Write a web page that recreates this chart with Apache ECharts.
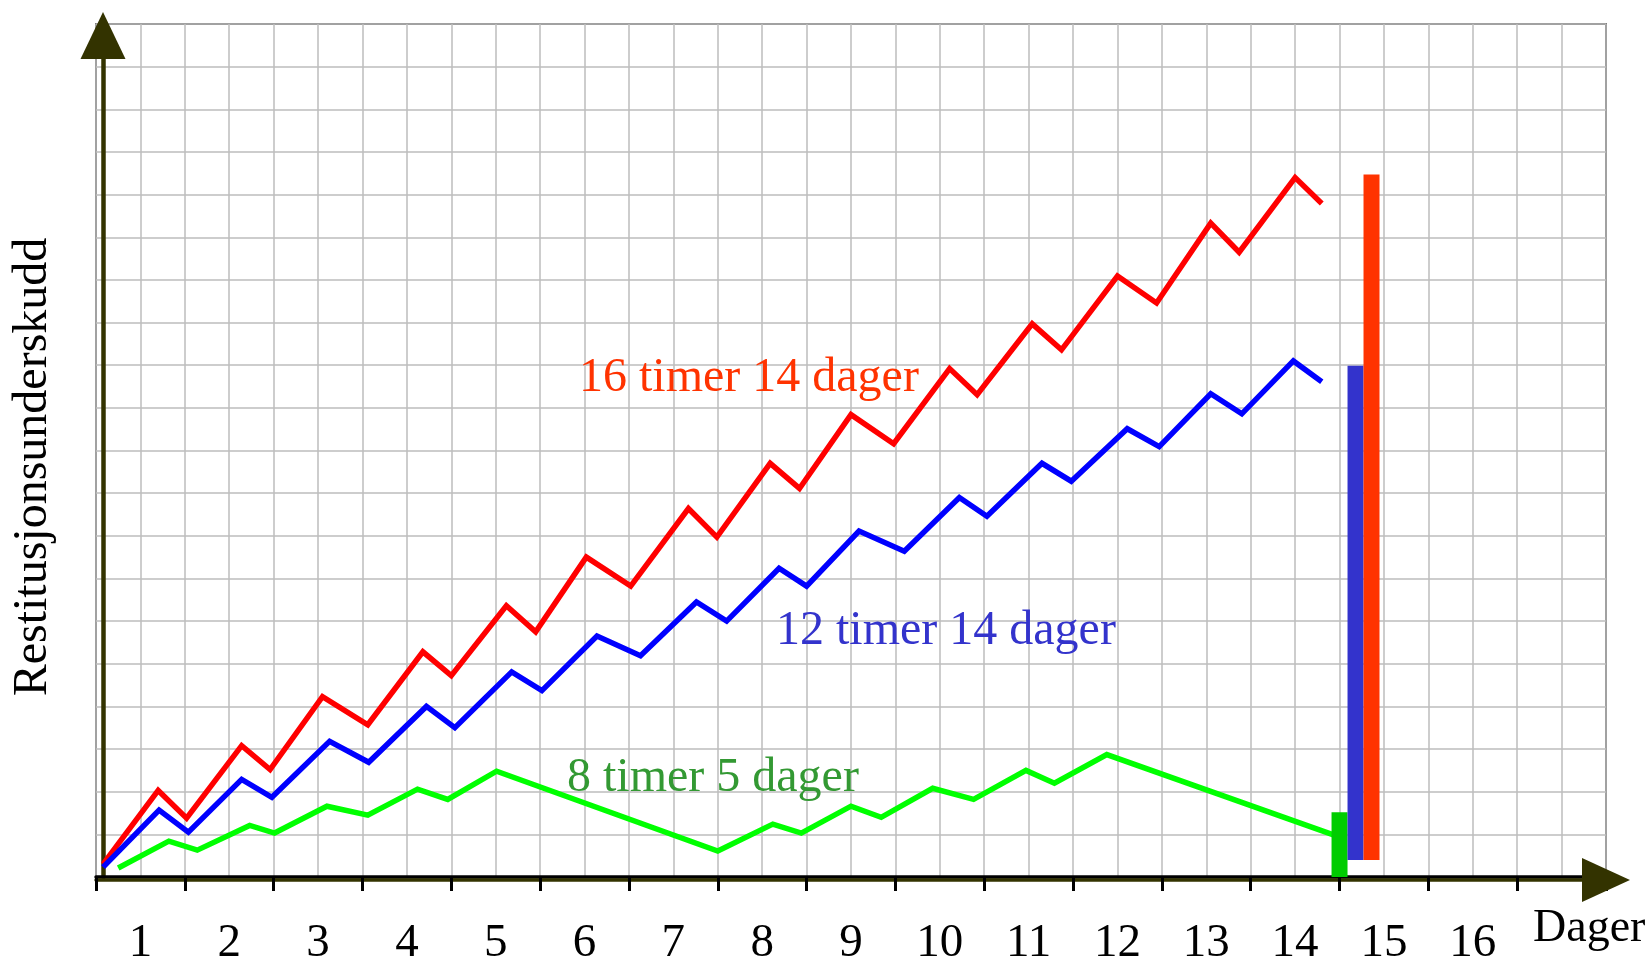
<!DOCTYPE html>
<html>
<head>
<meta charset="utf-8">
<script src="https://cdn.jsdelivr.net/npm/echarts@6/dist/echarts.min.js"></script>
<style>
html,body{margin:0;padding:0;background:#fff;}
#c{width:1645px;height:967px;}
</style>
</head>
<body>
<div id="c"></div>
<script>
// ---- data ----
const tickLabels = ['1','2','3','4','5','6','7','8','9','10','11','12','13','14','15','16',''];
const yTitle = 'Restitusjonsunderskudd';
const xTitle = 'Dager';

// 16 timer 14 dager (red)
const redPoints = [
  [0.08,0.30],[0.70,2.03],[1.02,1.38],[1.64,3.08],[1.96,2.52],[2.55,4.23],[3.06,3.57],
  [3.68,5.28],[4.00,4.72],[4.62,6.36],[4.95,5.75],[5.52,7.50],[6.02,6.82],[6.67,8.64],
  [6.99,7.97],[7.59,9.70],[7.92,9.11],[8.50,10.84],[8.98,10.16],[9.61,11.92],[9.92,11.31],
  [10.54,12.97],[10.87,12.36],[11.50,14.09],[11.94,13.46],[12.55,15.33],[12.87,14.65],
  [13.50,16.40],[13.80,15.79]
];
// 12 timer 14 dager (blue)
const bluePoints = [
  [0.08,0.23],[0.71,1.57],[1.04,1.05],[1.64,2.29],[1.98,1.87],[2.63,3.18],[3.07,2.69],
  [3.72,4.00],[4.04,3.50],[4.68,4.81],[5.02,4.37],[5.64,5.65],[6.13,5.19],[6.76,6.45],
  [7.10,6.00],[7.69,7.24],[8.00,6.82],[8.59,8.11],[9.10,7.64],[9.72,8.90],[10.03,8.46],
  [10.65,9.70],[10.98,9.28],[11.61,10.51],[11.97,10.09],[12.55,11.33],[12.90,10.86],
  [13.48,12.10],[13.80,11.61]
];
// 8 timer 5 dager (green)
const greenPoints = [
  [0.25,0.21],[0.82,0.84],[1.14,0.63],[1.73,1.21],[2.01,1.03],[2.60,1.66],[3.06,1.45],
  [3.62,2.06],[3.96,1.82],[4.51,2.48],[7.00,0.61],[7.62,1.24],[7.94,1.03],[8.50,1.66],
  [8.84,1.40],[9.42,2.08],[9.88,1.82],[10.47,2.50],[10.79,2.20],[11.38,2.87],[13.94,0.98]
];
// summary bars at day 14: [day, base, top]
const barDays  = [14.00, 14.18, 14.36];
const barBases = [0, 0.40, 0.40];
const barTops  = [1.52, 11.99, 16.47];
const seriesNames = ['8 timer 5 dager','12 timer 14 dager','16 timer 14 dager'];

// ---- chart ----
const barColors = ['#00cc00','#3333cc','#ff3300'];
const FONT = 'Liberation Serif';
const chart = echarts.init(document.getElementById('c'), null, {renderer:'canvas'});
const gridLine = {show:true, lineStyle:{color:'#bdbdbd', width:1.5}};

const option = {
  animation:false,
  backgroundColor:'#ffffff',
  grid:{left:96, right:39, top:24, bottom:87, show:true, borderColor:'#1a1a1a', borderWidth:1.5},
  xAxis:[
    {type:'value', position:'bottom', min:0, max:17, interval:1,
     axisLine:{show:true, onZero:false, lineStyle:{color:'#000', width:3.5}},
     axisTick:{show:true, length:14, lineStyle:{color:'#000', width:3}},
     axisLabel:{show:false},
     splitLine:gridLine,
     minorTick:{show:false, splitNumber:2},
     minorSplitLine:gridLine},
    {type:'category', position:'bottom', data:tickLabels, boundaryGap:true,
     axisLine:{show:false}, axisTick:{show:false}, splitLine:{show:false},
     axisLabel:{show:true, interval:0, fontSize:47, fontFamily:FONT, color:'#000', margin:43}},
    {type:'value', position:'bottom', offset:3, min:0, max:17,
     axisLine:{show:true, onZero:false, lineStyle:{color:'#333300', width:3.5},
       symbol:['none','triangle'], symbolSize:[44,48], symbolOffset:[0,0]},
     axisTick:{show:false}, axisLabel:{show:false}, splitLine:{show:false}}
  ],
  yAxis:[
    {type:'value', position:'left', min:0, max:20, interval:1, offset:-7,
     axisLine:{show:true, onZero:false, lineStyle:{color:'#333300', width:4.5},
       symbol:['none','triangle'], symbolSize:[45,47], symbolOffset:[0,-11.5]},
     axisTick:{show:false}, axisLabel:{show:false},
     splitLine:gridLine}
  ],
  series:[
    {name:seriesNames[2], type:'line', data:redPoints, showSymbol:false, symbol:'none',
     lineStyle:{color:'#ff0000', width:5.5, join:'miter', cap:'butt'}, z:3},
    {name:seriesNames[1], type:'line', data:bluePoints, showSymbol:false, symbol:'none',
     lineStyle:{color:'#0000ff', width:5.5, join:'miter', cap:'butt'}, z:3},
    {name:seriesNames[0], type:'line', data:greenPoints, showSymbol:false, symbol:'none',
     lineStyle:{color:'#00ff00', width:5.5, join:'miter', cap:'butt'}, z:3},
    {type:'custom', xAxisIndex:0, yAxisIndex:0, z:4,
     data: barDays.map((d,i)=>[d, barBases[i], barTops[i]]),
     encode:{x:0, y:[1,2]},
     renderItem:function(params, api){
       const x = api.value(0), lo = api.value(1), hi = api.value(2);
       const p0 = api.coord([x-0.09, hi]);
       const p1 = api.coord([x+0.09, lo]);
       return {type:'rect', shape:{x:p0[0], y:p0[1], width:p1[0]-p0[0], height:p1[1]-p0[1]},
               style:{fill:barColors[params.dataIndex]}};
     }}
  ],
  graphic:[
    {type:'text', x:33, y:467, rotation:Math.PI/2, z:10,
     style:{text:yTitle, font:'48px "Liberation Serif"', fill:'#000', align:'center', verticalAlign:'middle'}},
    {type:'text', x:1533, y:929, z:10,
     style:{text:xTitle, font:'46px "Liberation Serif"', fill:'#000', align:'left', verticalAlign:'middle'}},
    {type:'text', x:579, y:378, z:10,
     style:{text:seriesNames[2], font:'48px "Liberation Serif"', fill:'#ff3300', align:'left', verticalAlign:'middle'}},
    {type:'text', x:776, y:631, z:10,
     style:{text:seriesNames[1], font:'48px "Liberation Serif"', fill:'#3333cc', align:'left', verticalAlign:'middle'}},
    {type:'text', x:567, y:778, z:10,
     style:{text:seriesNames[0], font:'48px "Liberation Serif"', fill:'#339933', align:'left', verticalAlign:'middle'}}
  ]
};
chart.setOption(option);
</script>
</body>
</html>
